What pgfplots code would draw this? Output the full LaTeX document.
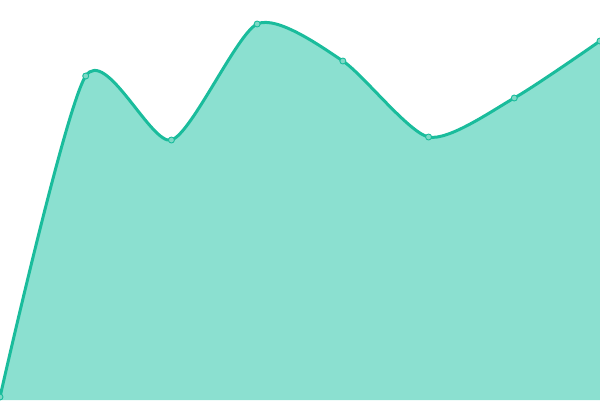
\documentclass[border=0pt]{standalone}
\usepackage{pgfplots}
\pgfplotsset{compat=1.18}
\definecolor{teal1}{HTML}{1ABC9C}
\definecolor{tealfill}{HTML}{8BE0D0}
\definecolor{tealmark}{HTML}{7ED9C6}

\pgfplotstableread{
x y
0 3
1 324
2 260
3 376
4 339
5 263
6 302
7 359
}\sales

\begin{document}
\begin{tikzpicture}
  \begin{axis}[
      hide axis,
      scale only axis,
      width=600pt,
      height=400pt,
      xmin=0, xmax=7,
      ymin=0, ymax=400,
      clip=false,
    ]
    % area
    \addplot[smooth, tension=0.42, draw=none, fill=tealfill, forget plot]
      table {\sales} \closedcycle;
    % line with markers
    \addplot[
      smooth,
      tension=0.42,
      draw=teal1,
      line width=3pt,
      mark=*,
      mark size=3pt,
      mark options={fill=tealmark, draw=teal1, line width=0.9pt},
    ] table {\sales};
  \end{axis}
  \pgfresetboundingbox
  \path[use as bounding box] (current axis.south west) rectangle (current axis.north east);
\end{tikzpicture}
\end{document}
